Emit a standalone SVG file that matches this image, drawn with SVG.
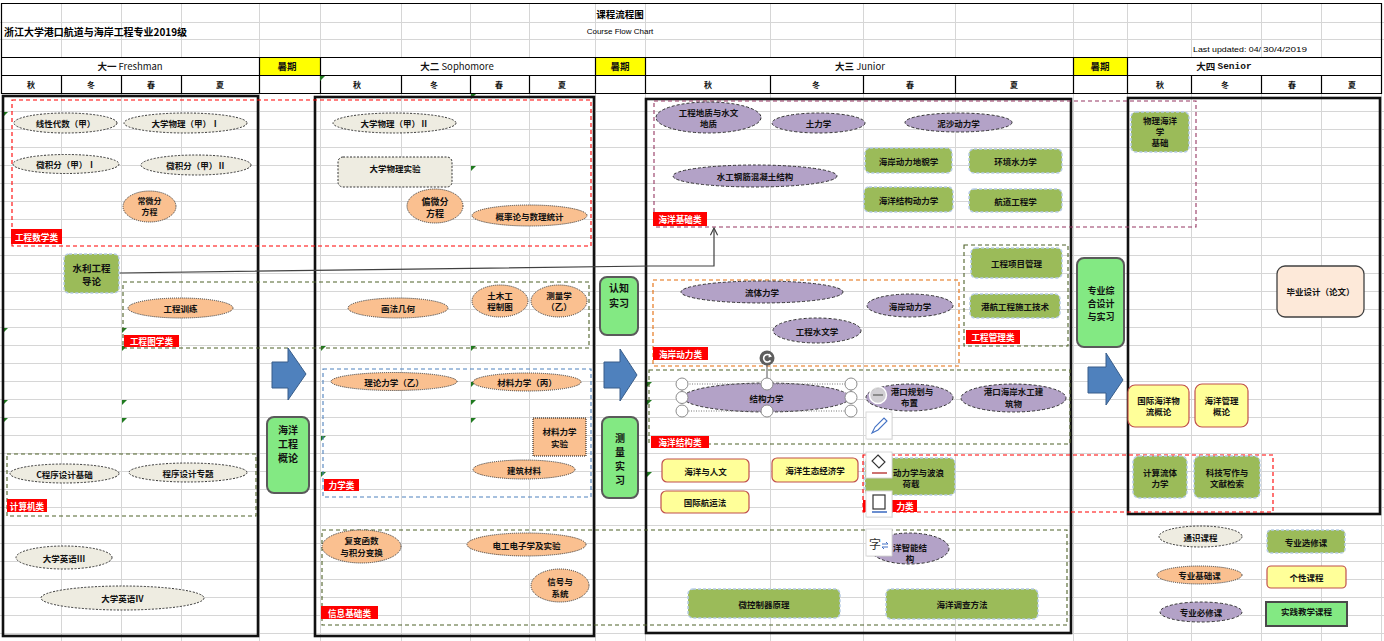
<svg xmlns="http://www.w3.org/2000/svg" width="1384" height="641" viewBox="0 0 1384 641">
<defs>
<style>
text{font-family:"Noto Sans CJK SC","Noto Sans",sans-serif}
.t{font-size:8.5px;font-weight:bold;fill:#111;text-anchor:middle;dominant-baseline:central}
.t10{font-size:10px;font-weight:bold;fill:#111;text-anchor:middle;dominant-baseline:central}
.g{fill:#EEECE1;stroke:#333;stroke-width:1;stroke-dasharray:2 1.5}
.b{fill:#FAC090;stroke:#333;stroke-width:1;stroke-dasharray:1 1}
.r{fill:#B3A2C7;stroke:#333;stroke-width:1;stroke-dasharray:3 2}
.e{fill:#9BBB59;stroke:#B7CCE6;stroke-width:1.5;stroke-dasharray:3 2}
.p{fill:#FFFF99;stroke:#C0504D;stroke-width:1.2}
.x{fill:#83E983;stroke:#5A5A5A;stroke-width:2}
.yr{fill:none;stroke:#111;stroke-width:2.6}
.grid{stroke:#D6D6D6;stroke-width:1;fill:none}
.hl{stroke:#000;stroke-width:1.2;fill:none}
.cr{fill:none;stroke:#FF0000;stroke-width:1.1;stroke-dasharray:4 3}
.co{fill:none;stroke:#4F6228;stroke-width:1.1;stroke-dasharray:4 3}
.cb{fill:none;stroke:#4F81BD;stroke-width:1.1;stroke-dasharray:4 3}
.cor{fill:none;stroke:#E46C0A;stroke-width:1.1;stroke-dasharray:4 3}
.cm{fill:none;stroke:#953762;stroke-width:1.1;stroke-dasharray:4 3}
.lb{fill:#FF0000}
.lt{font-size:8.6px;font-weight:bold;fill:#fff;text-anchor:middle;dominant-baseline:central}
.arw{fill:#4F81BD;stroke:#385D8A;stroke-width:1}
.h{font-size:8px;font-weight:bold;fill:#111;text-anchor:middle;dominant-baseline:central}
.hh{font-size:9.5px;fill:#111;text-anchor:middle;dominant-baseline:central}
.tri{fill:#1F7A1F}
.hd{fill:#fff;stroke:#8C8C8C;stroke-width:1}
.tb{fill:#fff;stroke:#D9D9D9;stroke-width:1}
</style>
<marker id="open" viewBox="0 0 10 10" refX="9" refY="5" markerWidth="9" markerHeight="9" markerUnits="userSpaceOnUse" orient="auto">
<path d="M1,1 L9,5 L1,9" fill="none" stroke="#404040" stroke-width="1.3"/>
</marker>
</defs>
<rect width="1384" height="641" fill="#fff"/>

<!-- grid -->
<g id="grid">
<path class="grid" d="M0,22.5H1384M0,39.5H1384M0,111.5H1384M0,129.5H1384M0,147.5H1384M0,165.5H1384M0,183.5H1384M0,201.5H1384M0,219.5H1384M0,237.5H1384M0,255.5H1384M0,273.5H1384M0,291.5H1384M0,309.5H1384M0,327.5H1384M0,345.5H1384M0,363.5H1384M0,381.5H1384M0,399.5H1384M0,417.5H1384M0,435.5H1384M0,453.5H1384M0,471.5H1384M0,489.5H1384M0,507.5H1384M0,525.5H1384M0,543.5H1384M0,561.5H1384M0,579.5H1384M0,597.5H1384M0,615.5H1384M0,633.5H1384"/>
<path class="grid" d="M61.5,3V57M121.5,3V57M181.5,3V57M259.5,3V57M320.5,3V57M401.5,3V57M470.5,3V57M529.5,3V57M595.5,3V57M645.5,3V57M770.5,3V57M863.5,3V57M955.5,3V57M1073.5,3V57M1127.5,3V57M1191.5,3V57M1261.5,3V57M1321.5,3V57"/>
<path class="grid" d="M61.5,93V641M121.5,93V641M181.5,93V641M259.5,93V641M320.5,93V641M401.5,93V641M470.5,93V641M529.5,93V641M595.5,93V641M645.5,93V641M770.5,93V641M863.5,93V641M955.5,93V641M1073.5,93V641M1127.5,93V641M1191.5,93V641M1261.5,93V641M1321.5,93V641M1381.5,93V641"/>
</g>

<!-- header -->
<g id="header">
<rect x="259" y="57" width="61" height="18" fill="#FFFF00"/>
<rect x="595" y="57" width="50" height="18" fill="#FFFF00"/>
<rect x="1073" y="57" width="54" height="18" fill="#FFFF00"/>
<path class="hl" d="M1.5,3.5H1381.5M1.5,57.5H1381.5M1.5,75.5H1381.5M1.5,93.5H1381.5M1.5,3V94M1381.5,3V94"/>
<path class="hl" d="M259.5,57V93M320.5,57V93M595.5,57V93M645.5,57V93M1073.5,57V93M1127.5,57V93"/>
<path class="hl" d="M61.5,75V93M121.5,75V93M181.5,75V93M401.5,75V93M470.5,75V93M529.5,75V93M770.5,75V93M863.5,75V93M955.5,75V93M1191.5,75V93M1261.5,75V93M1321.5,75V93"/>
<text x="620" y="14" style="font-size:9.5px;font-weight:bold;text-anchor:middle;dominant-baseline:central">课程流程图</text>
<text x="620" y="31" style="font-family:'Liberation Sans',sans-serif;font-size:8px;text-anchor:middle;dominant-baseline:central">Course Flow Chart</text>
<text x="4" y="31" textLength="183" lengthAdjust="spacingAndGlyphs" style="font-size:10px;font-weight:bold;dominant-baseline:central">浙江大学港口航道与海岸工程专业2019级</text>
<text x="1193" y="49" textLength="68" lengthAdjust="spacingAndGlyphs" style="font-family:'Liberation Sans',sans-serif;font-size:8px;dominant-baseline:central">Last updated: 04/</text>
<text x="1263" y="49" textLength="44" lengthAdjust="spacingAndGlyphs" style="font-family:'Liberation Sans',sans-serif;font-size:8px;dominant-baseline:central">30/4/2019</text>
<text class="hh" x="130" y="66"><tspan font-weight="bold">大一</tspan> Freshman</text>
<text class="hh" x="287" y="66" font-weight="bold">暑期</text>
<text class="hh" x="457" y="66"><tspan font-weight="bold">大二</tspan> Sophomore</text>
<text class="hh" x="620" y="66" font-weight="bold">暑期</text>
<text class="hh" x="860" y="66"><tspan font-weight="bold">大三</tspan> Junior</text>
<text class="hh" x="1100" y="66" font-weight="bold">暑期</text>
<text class="hh" x="1224" y="66" font-weight="bold">大四 <tspan style="font-family:'Liberation Mono',monospace">Senior</tspan></text>
<text class="h" x="31" y="84">秋</text><text class="h" x="91" y="84">冬</text><text class="h" x="151" y="84">春</text><text class="h" x="220" y="84">夏</text>
<text class="h" x="357" y="84">秋</text><text class="h" x="434" y="84">冬</text><text class="h" x="499" y="84">春</text><text class="h" x="562" y="84">夏</text>
<text class="h" x="708" y="84">秋</text><text class="h" x="816" y="84">冬</text><text class="h" x="910" y="84">春</text><text class="h" x="1014" y="84">夏</text>
<text class="h" x="1160" y="84">秋</text><text class="h" x="1225" y="84">冬</text><text class="h" x="1292" y="84">春</text><text class="h" x="1352" y="84">夏</text>
</g>

<!-- cell markers -->
<g id="markers">
<polygon class="tri" points="320,76 325,76 320,81"/>
<polygon class="tri" points="471,94 476,94 471,99"/>
<polygon class="tri" points="3,112 8,112 3,117"/>
<polygon class="tri" points="471,166 476,166 471,171"/>
<polygon class="tri" points="3,328 8,328 3,333"/>
<polygon class="tri" points="122,328 127,328 122,333"/>
<polygon class="tri" points="122,346 127,346 122,351"/>
<polygon class="tri" points="3,400 8,400 3,405"/>
<polygon class="tri" points="122,400 127,400 122,405"/>
<polygon class="tri" points="3,418 8,418 3,423"/>
<polygon class="tri" points="122,418 127,418 122,423"/>
<polygon class="tri" points="321,346 326,346 321,351"/>
<polygon class="tri" points="321,436 326,436 321,441"/>
<polygon class="tri" points="321,472 326,472 321,477"/>
<polygon class="tri" points="471,346 476,346 471,351"/>
<polygon class="tri" points="471,382 476,382 471,387"/>
<polygon class="tri" points="471,400 476,400 471,405"/>
<polygon class="tri" points="471,418 476,418 471,423"/>
<polygon class="tri" points="647,382 652,382 647,387"/>
<polygon class="tri" points="647,400 652,400 647,405"/>
<polygon class="tri" points="647,472 652,472 647,477"/>
</g>

<!-- year boxes -->
<g id="years">
<rect class="yr" x="3" y="96" width="255" height="540"/>
<rect class="yr" x="315" y="97" width="279" height="539"/>
<rect class="yr" x="646" y="99" width="425" height="534"/>
<rect class="yr" x="1128" y="98" width="252" height="416"/>
</g>

<!-- category groups -->
<g id="categories">
<g id="cat-gcsx"><rect class="cr" x="12" y="100" width="579" height="146"/><rect class="lb" x="11" y="229" width="51" height="15"/><text class="lt" x="36.5" y="236.5">工程数学类</text></g>
<g id="cat-gctx"><rect class="co" x="123" y="282" width="466" height="66"/><rect class="lb" x="124" y="335" width="55" height="12"/><text class="lt" x="151.5" y="341">工程图学类</text></g>
<g id="cat-jsj"><rect class="co" x="7" y="454" width="249" height="62"/><rect class="lb" x="7" y="499" width="40" height="13"/><text class="lt" x="27" y="505.5">计算机类</text></g>
<g id="cat-lx"><rect class="cb" x="323" y="369" width="268" height="128"/><rect class="lb" x="324" y="479" width="35" height="12"/><text class="lt" x="341.5" y="485">力学类</text></g>
<g id="cat-xxjc"><rect class="co" x="322" y="530" width="745" height="95"/><rect class="lb" x="321" y="606" width="57" height="13"/><text class="lt" x="349.5" y="612.5">信息基础类</text></g>
<g id="cat-hyjc"><rect class="cm" x="654" y="101" width="542" height="126"/><rect class="lb" x="653" y="212" width="54" height="14"/><text class="lt" x="680" y="219">海洋基础类</text></g>
<g id="cat-gcgl"><rect class="co" x="964" y="245" width="104" height="101"/><rect class="lb" x="966" y="330" width="54" height="14"/><text class="lt" x="993" y="337">工程管理类</text></g>
<g id="cat-hadl"><rect class="cor" x="653" y="280" width="306" height="86"/><rect class="lb" x="653" y="347" width="55" height="13"/><text class="lt" x="680.5" y="353.5">海岸动力类</text></g>
<g id="cat-hyjg"><rect class="co" x="649" y="370" width="421" height="74"/><rect class="lb" x="651" y="436" width="58" height="12"/><text class="lt" x="680" y="442">海洋结构类</text></g>
<g id="cat-lx2"><rect class="cr" x="863" y="455" width="410" height="57"/><rect class="lb" x="863" y="500" width="54" height="12"/><text class="lt" x="905" y="506">力类</text></g>
</g>

<!-- connectors -->
<g id="connectors">
<path d="M119,273 L650,266 L714,266 L714,228" fill="none" stroke="#404040" stroke-width="1.2" marker-end="url(#open)"/>
<path class="arw" d="M272,362H288V348L306,374L288,400V388H272Z"/>
<path class="arw" d="M604,362H620V349L637,375L620,401V388H604Z"/>
<path class="arw" d="M1088,367H1106V353L1123,380L1106,405V393H1088Z"/>
</g>

<!-- Freshman -->
<g id="n-xxds"><ellipse class="g" cx="65.5" cy="123" rx="51.5" ry="10"/><text class="t" x="65.5" y="123">线性代数（甲）</text></g>
<g id="n-dxwl1"><ellipse class="g" cx="185.5" cy="123" rx="61.5" ry="10"/><text class="t" x="185.5" y="123">大学物理（甲）Ⅰ</text></g>
<g id="n-wjf1"><ellipse class="g" cx="66" cy="164" rx="53" ry="9.5"/><text class="t" x="66" y="164">微积分（甲）Ⅰ</text></g>
<g id="n-wjf2"><ellipse class="g" cx="196" cy="165" rx="55" ry="10"/><text class="t" x="196" y="165">微积分（甲）Ⅱ</text></g>
<g id="n-cwf"><ellipse class="b" cx="149.5" cy="206.5" rx="26.5" ry="15.5"/><text class="t" x="149.5" y="200" style="font-size:8px">常微分</text><text class="t" x="149.5" y="211" style="font-size:8px">方程</text></g>
<g id="n-slgc"><rect class="e" x="64" y="254" width="55" height="39" rx="5"/><text class="t" x="91.5" y="268" style="font-size:9.5px">水利工程</text><text class="t" x="91.5" y="281" style="font-size:9.5px">导论</text></g>
<g id="n-gcxl"><ellipse class="b" cx="180.5" cy="308" rx="52.5" ry="10"/><text class="t" x="180.5" y="308">工程训练</text></g>
<g id="n-cxjc"><ellipse class="g" cx="64.5" cy="473.5" rx="54.5" ry="9.5"/><text class="t" x="64.5" y="473.5">C程序设计基础</text></g>
<g id="n-cxzt"><ellipse class="g" cx="188" cy="472.5" rx="59" ry="9.5"/><text class="t" x="188" y="472.5">程序设计专题</text></g>
<g id="n-yy3"><ellipse class="g" cx="64" cy="557.5" rx="48" ry="11.5"/><text class="t" x="64" y="557.5">大学英语Ⅲ</text></g>
<g id="n-yy4"><ellipse class="g" cx="122.5" cy="598" rx="81.5" ry="12"/><text class="t" x="122.5" y="598">大学英语Ⅳ</text></g>

<!-- summer 1 -->
<g id="n-hygcgl"><rect class="x" x="267" y="417" width="42" height="76" rx="7"/><text class="t10" x="288" y="429">海洋</text><text class="t10" x="288" y="443">工程</text><text class="t10" x="288" y="457">概论</text></g>

<!-- Sophomore -->
<g id="n-dxwl2"><ellipse class="g" cx="394.5" cy="123" rx="61.5" ry="10"/><text class="t" x="394.5" y="123">大学物理（甲）Ⅱ</text></g>
<g id="n-wlsy"><rect class="g" x="338" y="157" width="114" height="30" rx="5"/><text class="t" x="395" y="168">大学物理实验</text></g>
<g id="n-pwf"><ellipse class="b" cx="435" cy="206" rx="28" ry="17"/><text class="t" x="435" y="201" style="font-size:9px">偏微分</text><text class="t" x="435" y="213" style="font-size:9px">方程</text></g>
<g id="n-gll"><ellipse class="b" cx="529.5" cy="215.5" rx="57.5" ry="10.5"/><text class="t" x="529.5" y="215.5">概率论与数理统计</text></g>
<g id="n-hfjh"><ellipse class="b" cx="398" cy="308" rx="50" ry="10"/><text class="t" x="398" y="308">画法几何</text></g>
<g id="n-tmzt"><ellipse class="b" cx="500" cy="301" rx="28" ry="16"/><text class="t" x="500" y="295">土木工</text><text class="t" x="500" y="306">程制图</text></g>
<g id="n-clx"><ellipse class="b" cx="559" cy="301" rx="28" ry="16"/><text class="t" x="559" y="295">测量学</text><text class="t" x="559" y="306">（乙）</text></g>
<g id="n-lllx"><ellipse class="b" cx="394" cy="381.5" rx="63" ry="9"/><text class="t" x="394" y="381.5">理论力学（乙）</text></g>
<g id="n-cllx"><ellipse class="b" cx="527" cy="382" rx="54" ry="9"/><text class="t" x="527" y="382">材料力学（丙）</text></g>
<g id="n-clsy"><rect x="533" y="418" width="53" height="38" fill="#FAC090" stroke="#111" stroke-width="1" stroke-dasharray="1 1"/><text class="t" x="559.5" y="431">材料力学</text><text class="t" x="559.5" y="443">实验</text></g>
<g id="n-jzcl"><ellipse class="b" cx="524" cy="469.5" rx="51" ry="9.5"/><text class="t" x="524" y="469.5">建筑材料</text></g>
<g id="n-fbhs"><ellipse class="b" cx="361.5" cy="546.5" rx="39.5" ry="16.5"/><text class="t" x="361.5" y="540">复变函数</text><text class="t" x="361.5" y="552">与积分变换</text></g>
<g id="n-dgdz"><ellipse class="b" cx="526.5" cy="544.5" rx="59.5" ry="11.5"/><text class="t" x="526.5" y="544.5">电工电子学及实验</text></g>
<g id="n-xhxt"><ellipse class="b" cx="560" cy="585.5" rx="29" ry="16.5"/><text class="t" x="560" y="581">信号与</text><text class="t" x="560" y="593">系统</text></g>

<!-- summer 2 -->
<g id="n-rzsx"><rect class="x" x="600" y="277" width="38" height="58" rx="7"/><text class="t10" x="619" y="287">认知</text><text class="t10" x="619" y="302">实习</text></g>
<g id="n-clsx"><rect class="x" x="602" y="417" width="36" height="81" rx="7"/><text class="t10" x="620" y="437">测</text><text class="t10" x="620" y="451">量</text><text class="t10" x="620" y="465">实</text><text class="t10" x="620" y="479">习</text></g>

<!-- Junior -->
<g id="n-gcdz"><ellipse class="r" cx="708.5" cy="117.5" rx="52.5" ry="15.5"/><text class="t" x="708.5" y="112">工程地质与水文</text><text class="t" x="708.5" y="123">地质</text></g>
<g id="n-tlx"><ellipse class="r" cx="818.5" cy="123" rx="46.5" ry="10"/><text class="t" x="818.5" y="123">土力学</text></g>
<g id="n-nsdl"><ellipse class="r" cx="958.5" cy="122.5" rx="53.5" ry="9.5"/><text class="t" x="958.5" y="122.5">泥沙动力学</text></g>
<g id="n-sgjg"><ellipse class="r" cx="755" cy="176" rx="82" ry="11"/><text class="t" x="755" y="176">水工钢筋混凝土结构</text></g>
<g id="n-hadm"><rect class="e" x="865" y="148" width="87" height="25" rx="5"/><text class="t" x="908.5" y="160.5">海岸动力地貌学</text></g>
<g id="n-hjsl"><rect class="e" x="969" y="149" width="93" height="24" rx="5"/><text class="t" x="1015.5" y="161">环境水力学</text></g>
<g id="n-hyjgdl"><rect class="e" x="864" y="187" width="89" height="25" rx="5"/><text class="t" x="908.5" y="199.5">海洋结构动力学</text></g>
<g id="n-hdgc"><rect class="e" x="969" y="189" width="93" height="23" rx="5"/><text class="t" x="1015.5" y="200.5">航道工程学</text></g>
<g id="n-gcxm"><rect class="e" x="971" y="248" width="91" height="30" rx="5"/><text class="t" x="1016.5" y="263">工程项目管理</text></g>
<g id="n-hhsg"><rect class="e" x="970" y="294" width="90" height="24" rx="5"/><text class="t" x="1015" y="306">港航工程施工技术</text></g>
<g id="n-ltlx"><ellipse class="r" cx="762" cy="292" rx="81" ry="11"/><text class="t" x="762" y="292">流体力学</text></g>
<g id="n-hadlx"><ellipse class="r" cx="910" cy="305.5" rx="43" ry="11.5"/><text class="t" x="910" y="305.5">海岸动力学</text></g>
<g id="n-gcswx"><ellipse class="r" cx="817" cy="330.5" rx="44" ry="12.5"/><text class="t" x="817" y="330.5">工程水文学</text></g>
<g id="n-jglx"><ellipse class="r" cx="766.5" cy="397.5" rx="83.5" ry="14.5"/><text class="t" x="766.5" y="397.5">结构力学</text></g>
<g id="n-gkgh"><ellipse class="r" cx="909.5" cy="397.5" rx="43.5" ry="13.5"/><text class="t" x="912" y="391">港口规划与</text><text class="t" x="909.5" y="402">布置</text></g>
<g id="n-gkha"><ellipse class="r" cx="1013.5" cy="398" rx="52.5" ry="14"/><text class="t" x="1013.5" y="391">港口海岸水工建</text><text class="t" x="1013.5" y="403">筑物</text></g>
<g id="n-hyrw"><rect class="p" x="662" y="459" width="87" height="23" rx="5"/><text class="t" x="705.5" y="470.5">海洋与人文</text></g>
<g id="n-hyst"><rect class="p" x="772" y="458" width="86" height="24" rx="5"/><text class="t" x="815" y="470">海洋生态经济学</text></g>
<g id="n-gjhy"><rect class="p" x="661" y="491" width="88" height="22" rx="5"/><text class="t" x="705" y="502">国际航运法</text></g>
<g id="n-dlbl"><rect class="e" x="865" y="458" width="90" height="37" rx="5"/><text class="t" x="893" y="472" style="text-anchor:start">动力学与波浪</text><text class="t" x="911" y="483">荷载</text></g>
<g id="n-hyzn"><ellipse class="r" cx="909.5" cy="548.5" rx="39.5" ry="15.5"/><text class="t" x="893" y="547" style="text-anchor:start">洋智能结</text><text class="t" x="910" y="558">构</text></g>
<g id="n-wkzq"><rect class="e" x="688" y="589" width="152" height="29" rx="5"/><text class="t" x="764" y="603.5">微控制器原理</text></g>
<g id="n-hydc"><rect class="e" x="886" y="589" width="152" height="30" rx="5"/><text class="t" x="962" y="604">海洋调查方法</text></g>

<!-- summer 3 -->
<g id="n-zyzh"><rect class="x" x="1077" y="258" width="47" height="89" rx="7"/><text class="t" x="1101" y="290" style="font-size:9px">专业综</text><text class="t" x="1101" y="303" style="font-size:9px">合设计</text><text class="t" x="1101" y="316" style="font-size:9px">与实习</text></g>

<!-- Senior -->
<g id="n-wlhy"><rect class="e" x="1131" y="112" width="58" height="40" rx="5"/><text class="t" x="1160" y="120">物理海洋</text><text class="t" x="1160" y="131">学</text><text class="t" x="1160" y="142">基础</text></g>
<g id="n-bysj"><rect x="1277" y="266" width="87" height="51" rx="8" fill="#FDE9D9" stroke="#404040" stroke-width="1.3"/><text class="t" x="1320.5" y="291">毕业设计（论文）</text></g>
<g id="n-gjwl"><rect class="p" x="1128" y="385" width="61" height="42" rx="7"/><text class="t" x="1158.5" y="400">国际海洋物</text><text class="t" x="1158.5" y="411">流概论</text></g>
<g id="n-hygl"><rect class="p" x="1195" y="384" width="53" height="43" rx="7"/><text class="t" x="1221.5" y="400">海洋管理</text><text class="t" x="1221.5" y="411">概论</text></g>
<g id="n-jslt"><rect class="e" x="1133" y="456" width="54" height="42" rx="6"/><text class="t" x="1160" y="472">计算流体</text><text class="t" x="1160" y="483">力学</text></g>
<g id="n-kjxz"><rect class="e" x="1194" y="456" width="66" height="42" rx="6"/><text class="t" x="1227" y="472">科技写作与</text><text class="t" x="1227" y="483">文献检索</text></g>

<!-- legend -->
<g id="legend">
<g id="leg-tskc"><ellipse class="g" cx="1200.5" cy="536.5" rx="41.5" ry="10.5"/><text class="t" x="1200.5" y="536.5">通识课程</text></g>
<g id="leg-jck"><ellipse class="b" cx="1199.5" cy="575" rx="42.5" ry="9"/><text class="t" x="1199.5" y="575">专业基础课</text></g>
<g id="leg-bxk"><ellipse class="r" cx="1201" cy="612" rx="41" ry="10"/><text class="t" x="1201" y="612">专业必修课</text></g>
<g id="leg-xxk"><rect class="e" x="1267" y="530" width="78" height="23" rx="4"/><text class="t" x="1306" y="541.5">专业选修课</text></g>
<g id="leg-gxk"><rect class="p" x="1267" y="566" width="79" height="22" rx="4"/><text class="t" x="1306.5" y="577">个性课程</text></g>
<g id="leg-sjk"><rect x="1266" y="602" width="81" height="24" fill="#83E983" stroke="#4A4A4A" stroke-width="2"/><text class="t" x="1306.5" y="611">实践教学课程</text></g>
</g>

<!-- selection overlay -->
<g id="overlay">
<rect x="682" y="384" width="169" height="27" fill="none" stroke="#777" stroke-width="1" stroke-dasharray="1 1.5"/>
<line x1="767" y1="365" x2="767" y2="378" stroke="#555" stroke-width="1"/>
<circle cx="767" cy="358" r="7.5" fill="#5E5E5E"/>
<path d="M770.5,356 A3.8,3.8 0 1 0 770.5,360.5" fill="none" stroke="#fff" stroke-width="1.6"/>
<path d="M769,353.5 L772,356.5 L768.5,357.5Z" fill="#fff"/>
<circle class="hd" cx="682" cy="384" r="6"/><circle class="hd" cx="767" cy="384" r="6"/><circle class="hd" cx="851" cy="384" r="6"/>
<circle class="hd" cx="682" cy="397.5" r="6"/><circle class="hd" cx="851" cy="397.5" r="6"/>
<circle class="hd" cx="682" cy="411" r="6"/><circle class="hd" cx="767" cy="411" r="6"/><circle class="hd" cx="851" cy="411" r="6"/>
<circle cx="878" cy="395" r="8.5" fill="#D4D4D4" fill-opacity="0.9" stroke="#fff" stroke-width="1.5"/>
<line x1="873" y1="395" x2="883" y2="395" stroke="#8C8C8C" stroke-width="2"/>
<rect x="867" y="413" width="26" height="27" fill="#000" fill-opacity="0.08"/>
<rect class="tb" x="866" y="412" width="26" height="27"/>
<path d="M872,433 L875,427 L884,418 L887,421 L878,430 Z" fill="none" stroke="#4472C4" stroke-width="1.1"/>
<rect x="867" y="453" width="26" height="26" fill="#000" fill-opacity="0.08"/>
<rect class="tb" x="866" y="452" width="26" height="26"/>
<path d="M878,455 L885,462 L879,468 L872,461 Z" fill="none" stroke="#333" stroke-width="1.1"/>
<line x1="872" y1="473" x2="887" y2="473" stroke="#C0504D" stroke-width="1.6"/>
<rect x="867" y="492" width="26" height="26" fill="#000" fill-opacity="0.08"/>
<rect class="tb" x="866" y="491" width="26" height="26"/>
<rect x="873" y="495" width="12" height="14" fill="none" stroke="#333" stroke-width="1.2"/>
<line x1="872" y1="512" x2="887" y2="512" stroke="#4472C4" stroke-width="1.6"/>
<rect x="867" y="530" width="26" height="27" fill="#000" fill-opacity="0.08"/>
<rect class="tb" x="866" y="529" width="26" height="27"/>
<text x="875" y="543" style="font-size:12px;fill:#333;text-anchor:middle;dominant-baseline:central">字</text>
<path d="M882,544 H888 M886,542 L888,544 M888,547 H882 M884,549 L882,547" fill="none" stroke="#4472C4" stroke-width="1"/>
</g>
</svg>
